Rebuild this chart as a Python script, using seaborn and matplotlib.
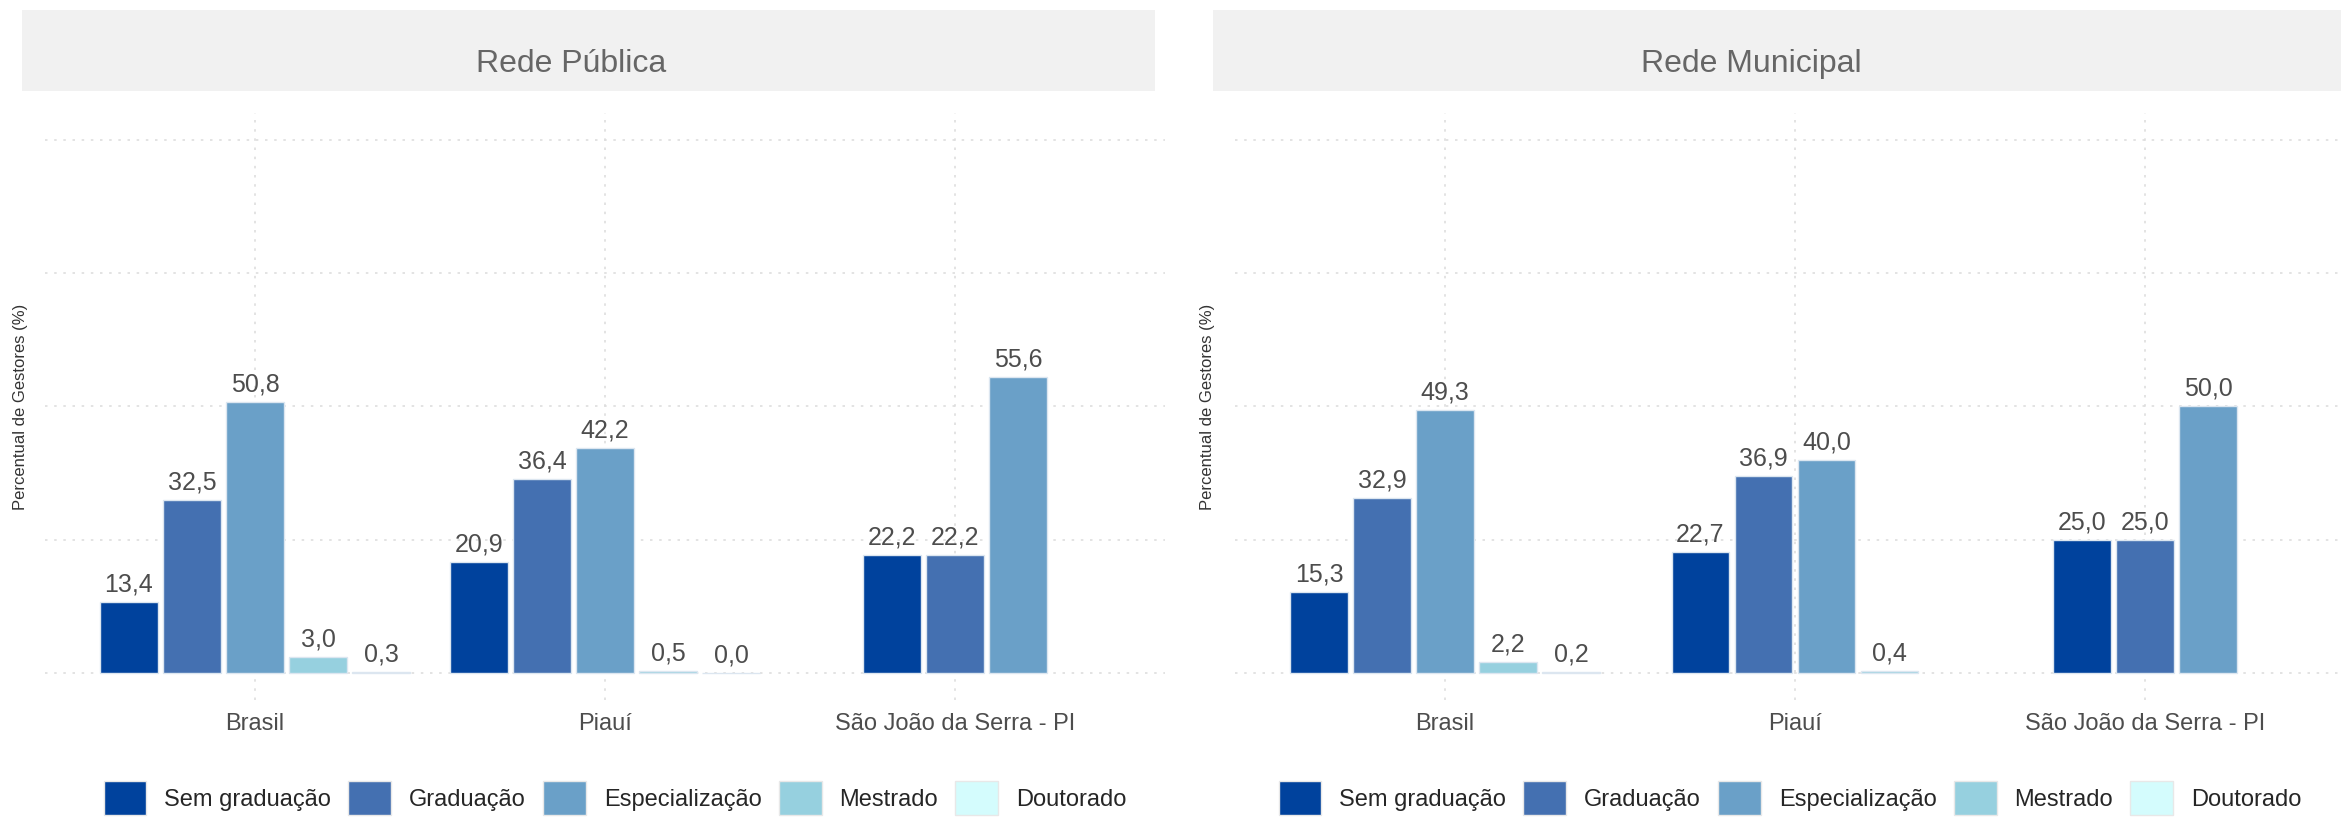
import matplotlib
matplotlib.use("Agg")
import matplotlib.pyplot as plt
from matplotlib.patches import Rectangle, Patch
import seaborn as sns
import pandas as pd

# ---- data ----
categories = ["Brasil", "Piauí", "São João da Serra - PI"]
levels = ["Sem graduação", "Graduação", "Especialização", "Mestrado", "Doutorado"]
colors = ["#00429d", "#4470b1", "#6aa0c8", "#96d0df", "#d4fcfd"]
panel_titles = ["Rede Pública", "Rede Municipal"]

# values per category (None = absent)
publica_brasil = [13.4, 32.5, 50.8, 3.0, 0.3]
publica_piaui = [20.9, 36.4, 42.2, 0.5, 0.0]
publica_sjs = [22.2, 22.2, 55.6, None, None]
municipal_brasil = [15.3, 32.9, 49.3, 2.2, 0.2]
municipal_piaui = [22.7, 36.9, 40.0, 0.4, None]
municipal_sjs = [25.0, 25.0, 50.0, None, None]

panels = [
    [publica_brasil, publica_piaui, publica_sjs],
    [municipal_brasil, municipal_piaui, municipal_sjs],
]
ylabel = "Percentual de Gestores (%)"

sns.set_theme(style="white")
plt.rcParams["font.family"] = ["Liberation Sans", "DejaVu Sans"]

W, H = 2341, 817
fig = plt.figure(figsize=(W / 100, H / 100), dpi=100)

palette = dict(zip(levels, colors))
slot = 0.18

ax_lefts = [45, 1235]
strip_lefts = [22, 1213]
title_cx = [571, 1751]
legend_cx = [615, 1790]
ylabel_x = [-0.0152, -0.0179]

for p, (vals, title) in enumerate(zip(panels, panel_titles)):
    ax = fig.add_axes([ax_lefts[p] / W, (H - 700) / H, 1120 / W, 587 / H])
    for ci, cat in enumerate(categories):
        rows = [(cat, lv, v) for lv, v in zip(levels, vals[ci]) if v is not None]
        df = pd.DataFrame(rows, columns=["cat", "nivel", "valor"])
        present = list(df["nivel"])
        sns.barplot(data=df, x="cat", y="valor", hue="nivel", order=categories,
                    hue_order=present, palette=palette, width=slot * len(present),
                    gap=0.09, dodge=True, errorbar=None, legend=False, ax=ax,
                    edgecolor="#dce6f0", linewidth=1.0, saturation=1)
    for cont in ax.containers:
        labs = [f"{b.get_height():.1f}".replace(".", ",") for b in cont]
        ax.bar_label(cont, labels=labs, padding=4, fontsize=18, color="#4d4d4d")
    ax.set_xlim(-0.6, 2.6)
    ax.set_ylim(-5, 105)
    ax.set_yticks([0, 25, 50, 75, 100])
    ax.set_yticklabels([])
    ax.grid(True, color="#dedede", linestyle=(0, (1.5, 4)), linewidth=1.2)
    ax.set_axisbelow(True)
    for s in ax.spines.values():
        s.set_visible(False)
    ax.tick_params(axis="both", length=0)
    ax.tick_params(axis="x", pad=9, labelsize=17, labelcolor="#4d4d4d")
    ax.set_xlabel("")
    ax.set_ylabel(ylabel, fontsize=12, color="#333333")
    ax.yaxis.set_label_coords(ylabel_x[p], 0.5)

    # strip
    fig.add_artist(Rectangle((strip_lefts[p] / W, (H - 91) / H), 1133 / W, 81 / H,
                             transform=fig.transFigure, facecolor="#f1f1f1",
                             edgecolor="none", zorder=0))
    fig.text(title_cx[p] / W, (H - 72) / H, title, ha="center", va="baseline",
             fontsize=23, color="#666666")

    handles = [Patch(facecolor=c, edgecolor="#e8e8e8", label=l) for l, c in zip(levels, colors)]
    fig.legend(handles=handles, loc="center", ncol=5, frameon=False,
               bbox_to_anchor=(legend_cx[p] / W, (H - 798) / H),
               fontsize=17, handlelength=1.82, handleheight=1.82,
               handletextpad=0.76, columnspacing=0.72, borderaxespad=0,
               borderpad=0)

fig.savefig("out.png", dpi=100)
